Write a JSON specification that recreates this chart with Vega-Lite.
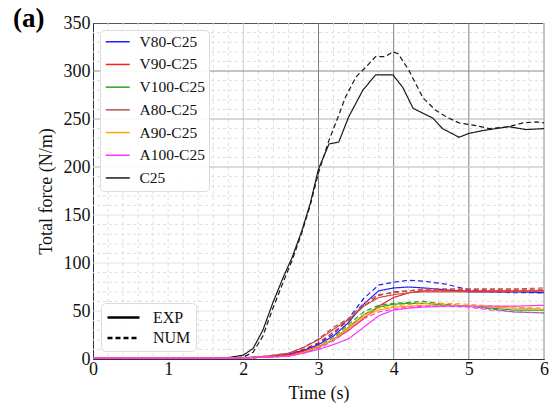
{
"$schema":"https://vega.github.io/schema/vega-lite/v6.json",
"width":451,"height":336,
"autosize":{"type":"none"},
"padding":{"left":93,"top":23,"right":8,"bottom":51},
"title":{"text":"(a)","anchor":"start","frame":"group","dx":-80,"offset":-40,"baseline":"alphabetic","font":"Liberation Serif, Times New Roman, serif","fontSize":27,"fontWeight":"bold","color":"#000"},
"config":{
 "font":"Liberation Serif, Times New Roman, serif",
 "view":{"stroke":"#555","strokeWidth":1},
 "axis":{"labelFont":"Liberation Serif, Times New Roman, serif","titleFont":"Liberation Serif, Times New Roman, serif","labelFontSize":18,"titleFontSize":18,"labelColor":"#111","titleColor":"#111","titleFontWeight":"normal","ticks":false,"domainColor":"#333","grid":false,"labelOverlap":false,"labelFlush":false},
 "legend":{"labelFont":"Liberation Serif, Times New Roman, serif","fillColor":"rgba(255,255,255,0.9)","strokeColor":"#dcdcdc","cornerRadius":4,"labelColor":"#111"}
},
"resolve":{"axis":{"x":"independent","y":"independent"}},
"layer":[
 {"data":{"values":[{"t":0.2},{"t":0.4},{"t":0.6},{"t":0.8},{"t":1},{"t":1.2},{"t":1.4},{"t":1.6},{"t":1.8},{"t":2.2},{"t":2.4},{"t":2.6},{"t":2.8},{"t":3.2},{"t":3.4},{"t":3.6},{"t":3.8},{"t":4.2},{"t":4.4},{"t":4.6},{"t":4.8},{"t":5.2},{"t":5.4},{"t":5.6},{"t":5.8}]},
  "mark":{"type":"rule","color":"#dedede","strokeWidth":1,"strokeDash":[3,3]},"encoding":{"x":{"field":"t","type":"quantitative","axis":null}}},
 {"data":{"values":[{"v":10},{"v":20},{"v":30},{"v":40},{"v":60},{"v":70},{"v":80},{"v":90},{"v":110},{"v":120},{"v":130},{"v":140},{"v":160},{"v":170},{"v":180},{"v":190},{"v":210},{"v":220},{"v":230},{"v":240},{"v":260},{"v":270},{"v":280},{"v":290},{"v":310},{"v":320},{"v":330},{"v":340}]},
  "mark":{"type":"rule","color":"#dedede","strokeWidth":1,"strokeDash":[3,3]},"encoding":{"y":{"field":"v","type":"quantitative","axis":null}}},
 {"data":{"values":[{"t":3},{"t":4},{"t":5}]},"mark":{"type":"rule","color":"#808080","strokeWidth":1},"encoding":{"x":{"field":"t","type":"quantitative","axis":null}}},
 {"data":{"values":[{"t":2}]},"mark":{"type":"rule","color":"#cccccc","strokeWidth":1},"encoding":{"x":{"field":"t","type":"quantitative","axis":null}}},
 {"data":{"values":[{"t":6}]},"mark":{"type":"rule","color":"#c4c4c4","strokeWidth":2},"encoding":{"x":{"field":"t","type":"quantitative","axis":null}}},
 {"data":{"values":[{"v":300}]},"mark":{"type":"rule","color":"#8a8a8a","strokeWidth":1},"encoding":{"y":{"field":"v","type":"quantitative","axis":null}}},
 {"data":{"values":[{"v":250}]},"mark":{"type":"rule","color":"#b0b0b0","strokeWidth":1},"encoding":{"y":{"field":"v","type":"quantitative","axis":null}}},
 {"data":{"values":[{"v":200}]},"mark":{"type":"rule","color":"#cfcfcf","strokeWidth":1.5},"encoding":{"y":{"field":"v","type":"quantitative","axis":null}}},
 {"data":{"values":[{"v":150},{"v":100},{"v":50}]},"mark":{"type":"rule","color":"#e2e2e2","strokeWidth":1},"encoding":{"y":{"field":"v","type":"quantitative","axis":null}}},
 {"data":{"name":"curves"},
  "mark":{"type":"line","strokeWidth":1.2},
  "encoding":{
   "x":{"field":"t","type":"quantitative","scale":{"domain":[0,6],"nice":false},
        "axis":{"orient":"bottom","title":"Time (s)","format":"d","values":[0,1,2,3,4,5,6],"labelOverlap":false,"labelPadding":1,"titlePadding":6}},
   "y":{"field":"v","type":"quantitative","scale":{"domain":[0,350],"nice":false},
        "axis":{"orient":"left","title":"Total force (N/m)","format":"d","values":[0,50,100,150,200,250,300,350],"labelOverlap":false,"labelPadding":3,"titlePadding":8}},
   "color":{"field":"s","type":"nominal","scale":{"domain":["V80-C25","V90-C25","V100-C25","A80-C25","A90-C25","A100-C25","C25"],"range":["#1f1fff","#ff1a1a","#2ca02c","#b5544f","#ffa500","#ff33ff","#1a1a1a"]},
     "legend":{"title":null,"orient":"top-left","offset":7,"symbolType":"M-2,0H2","symbolSize":144,"symbolOffset":6,"symbolStrokeWidth":1.5,"labelOffset":14,"labelFontSize":15.5,"rowPadding":5.7,"padding":4}},
   "strokeDash":{"field":"k","type":"nominal","scale":{"domain":["EXP","NUM"],"range":[[1,0],[5,3]]},
     "legend":{"title":null,"orient":"bottom-left","offset":8,"symbolType":"M-2,0H2","symbolSize":256,"symbolOffset":8,"symbolStrokeWidth":2.5,"symbolStrokeColor":"#000","labelOffset":20,"labelFontSize":16,"rowPadding":2.5,"padding":5}},
   "detail":{"field":"k"}
  }}
],
"datasets":{"curves":[
{"s":"C25","k":"EXP","t":0,"v":1},{"s":"C25","k":"EXP","t":1,"v":1},{"s":"C25","k":"EXP","t":1.8,"v":1.5},{"s":"C25","k":"EXP","t":2.0,"v":4},{"s":"C25","k":"EXP","t":2.13,"v":11},{"s":"C25","k":"EXP","t":2.26,"v":30},{"s":"C25","k":"EXP","t":2.39,"v":58},{"s":"C25","k":"EXP","t":2.53,"v":85},{"s":"C25","k":"EXP","t":2.65,"v":106},{"s":"C25","k":"EXP","t":2.78,"v":134},{"s":"C25","k":"EXP","t":2.89,"v":162},{"s":"C25","k":"EXP","t":3.0,"v":198},{"s":"C25","k":"EXP","t":3.14,"v":224},{"s":"C25","k":"EXP","t":3.27,"v":226},{"s":"C25","k":"EXP","t":3.4,"v":252},{"s":"C25","k":"EXP","t":3.59,"v":280},{"s":"C25","k":"EXP","t":3.76,"v":296},{"s":"C25","k":"EXP","t":3.99,"v":296},{"s":"C25","k":"EXP","t":4.12,"v":283},{"s":"C25","k":"EXP","t":4.26,"v":261},{"s":"C25","k":"EXP","t":4.39,"v":256},{"s":"C25","k":"EXP","t":4.52,"v":251},{"s":"C25","k":"EXP","t":4.65,"v":240},{"s":"C25","k":"EXP","t":4.87,"v":231},{"s":"C25","k":"EXP","t":5.0,"v":235},{"s":"C25","k":"EXP","t":5.19,"v":238},{"s":"C25","k":"EXP","t":5.53,"v":242},{"s":"C25","k":"EXP","t":5.76,"v":239},{"s":"C25","k":"EXP","t":6.0,"v":240},
{"s":"C25","k":"NUM","t":0,"v":1},{"s":"C25","k":"NUM","t":1,"v":1},{"s":"C25","k":"NUM","t":1.8,"v":1},{"s":"C25","k":"NUM","t":2.0,"v":2},{"s":"C25","k":"NUM","t":2.13,"v":7},{"s":"C25","k":"NUM","t":2.26,"v":24},{"s":"C25","k":"NUM","t":2.39,"v":52},{"s":"C25","k":"NUM","t":2.53,"v":80},{"s":"C25","k":"NUM","t":2.65,"v":103},{"s":"C25","k":"NUM","t":2.78,"v":132},{"s":"C25","k":"NUM","t":2.89,"v":160},{"s":"C25","k":"NUM","t":3.0,"v":194},{"s":"C25","k":"NUM","t":3.14,"v":228},{"s":"C25","k":"NUM","t":3.26,"v":252},{"s":"C25","k":"NUM","t":3.36,"v":273},{"s":"C25","k":"NUM","t":3.5,"v":294},{"s":"C25","k":"NUM","t":3.63,"v":304},{"s":"C25","k":"NUM","t":3.76,"v":315},{"s":"C25","k":"NUM","t":3.89,"v":315},{"s":"C25","k":"NUM","t":3.99,"v":320},{"s":"C25","k":"NUM","t":4.06,"v":318},{"s":"C25","k":"NUM","t":4.2,"v":301},{"s":"C25","k":"NUM","t":4.39,"v":272},{"s":"C25","k":"NUM","t":4.56,"v":259},{"s":"C25","k":"NUM","t":4.73,"v":251},{"s":"C25","k":"NUM","t":4.87,"v":246},{"s":"C25","k":"NUM","t":5.1,"v":243},{"s":"C25","k":"NUM","t":5.27,"v":240},{"s":"C25","k":"NUM","t":5.53,"v":242},{"s":"C25","k":"NUM","t":5.72,"v":246},{"s":"C25","k":"NUM","t":5.9,"v":247},{"s":"C25","k":"NUM","t":6.0,"v":246},
{"s":"V80-C25","k":"EXP","t":0,"v":1},{"s":"V80-C25","k":"EXP","t":1,"v":1},{"s":"V80-C25","k":"EXP","t":2,"v":1.5},{"s":"V80-C25","k":"EXP","t":2.3,"v":2},{"s":"V80-C25","k":"EXP","t":2.6,"v":5},{"s":"V80-C25","k":"EXP","t":2.8,"v":9},{"s":"V80-C25","k":"EXP","t":3.0,"v":15},{"s":"V80-C25","k":"EXP","t":3.2,"v":24},{"s":"V80-C25","k":"EXP","t":3.4,"v":38},{"s":"V80-C25","k":"EXP","t":3.6,"v":57},{"s":"V80-C25","k":"EXP","t":3.8,"v":71},{"s":"V80-C25","k":"EXP","t":4.0,"v":74},{"s":"V80-C25","k":"EXP","t":4.2,"v":75},{"s":"V80-C25","k":"EXP","t":4.4,"v":74},{"s":"V80-C25","k":"EXP","t":4.7,"v":72},{"s":"V80-C25","k":"EXP","t":5.0,"v":70},{"s":"V80-C25","k":"EXP","t":5.3,"v":70},{"s":"V80-C25","k":"EXP","t":5.6,"v":70},{"s":"V80-C25","k":"EXP","t":6.0,"v":69},
{"s":"V80-C25","k":"NUM","t":0,"v":1},{"s":"V80-C25","k":"NUM","t":1,"v":1},{"s":"V80-C25","k":"NUM","t":2,"v":1},{"s":"V80-C25","k":"NUM","t":2.3,"v":2},{"s":"V80-C25","k":"NUM","t":2.6,"v":5},{"s":"V80-C25","k":"NUM","t":2.8,"v":9},{"s":"V80-C25","k":"NUM","t":3.0,"v":16},{"s":"V80-C25","k":"NUM","t":3.2,"v":26},{"s":"V80-C25","k":"NUM","t":3.4,"v":42},{"s":"V80-C25","k":"NUM","t":3.6,"v":63},{"s":"V80-C25","k":"NUM","t":3.8,"v":77},{"s":"V80-C25","k":"NUM","t":4.0,"v":80},{"s":"V80-C25","k":"NUM","t":4.2,"v":82},{"s":"V80-C25","k":"NUM","t":4.4,"v":81},{"s":"V80-C25","k":"NUM","t":4.7,"v":78},{"s":"V80-C25","k":"NUM","t":5.0,"v":72},{"s":"V80-C25","k":"NUM","t":5.3,"v":70},{"s":"V80-C25","k":"NUM","t":5.6,"v":69},{"s":"V80-C25","k":"NUM","t":6.0,"v":69},
{"s":"V90-C25","k":"EXP","t":0,"v":1},{"s":"V90-C25","k":"EXP","t":1,"v":1},{"s":"V90-C25","k":"EXP","t":2,"v":1},{"s":"V90-C25","k":"EXP","t":2.3,"v":2},{"s":"V90-C25","k":"EXP","t":2.6,"v":4},{"s":"V90-C25","k":"EXP","t":2.8,"v":8},{"s":"V90-C25","k":"EXP","t":3.0,"v":13},{"s":"V90-C25","k":"EXP","t":3.2,"v":20},{"s":"V90-C25","k":"EXP","t":3.4,"v":30},{"s":"V90-C25","k":"EXP","t":3.6,"v":42},{"s":"V90-C25","k":"EXP","t":3.8,"v":55},{"s":"V90-C25","k":"EXP","t":4.0,"v":64},{"s":"V90-C25","k":"EXP","t":4.2,"v":69},{"s":"V90-C25","k":"EXP","t":4.4,"v":71},{"s":"V90-C25","k":"EXP","t":4.7,"v":71},{"s":"V90-C25","k":"EXP","t":5.0,"v":71},{"s":"V90-C25","k":"EXP","t":5.3,"v":71},{"s":"V90-C25","k":"EXP","t":5.6,"v":71},{"s":"V90-C25","k":"EXP","t":6.0,"v":71},
{"s":"V90-C25","k":"NUM","t":0,"v":1},{"s":"V90-C25","k":"NUM","t":1,"v":1},{"s":"V90-C25","k":"NUM","t":2,"v":1},{"s":"V90-C25","k":"NUM","t":2.3,"v":2},{"s":"V90-C25","k":"NUM","t":2.6,"v":5},{"s":"V90-C25","k":"NUM","t":2.8,"v":10},{"s":"V90-C25","k":"NUM","t":3.0,"v":17},{"s":"V90-C25","k":"NUM","t":3.2,"v":28},{"s":"V90-C25","k":"NUM","t":3.4,"v":40},{"s":"V90-C25","k":"NUM","t":3.6,"v":55},{"s":"V90-C25","k":"NUM","t":3.8,"v":66},{"s":"V90-C25","k":"NUM","t":4.0,"v":70},{"s":"V90-C25","k":"NUM","t":4.2,"v":71},{"s":"V90-C25","k":"NUM","t":4.4,"v":72},{"s":"V90-C25","k":"NUM","t":4.7,"v":72},{"s":"V90-C25","k":"NUM","t":5.0,"v":72},{"s":"V90-C25","k":"NUM","t":5.3,"v":72},{"s":"V90-C25","k":"NUM","t":5.6,"v":72},{"s":"V90-C25","k":"NUM","t":6.0,"v":72},
{"s":"V100-C25","k":"EXP","t":0,"v":1},{"s":"V100-C25","k":"EXP","t":1,"v":1},{"s":"V100-C25","k":"EXP","t":2,"v":1},{"s":"V100-C25","k":"EXP","t":2.3,"v":2},{"s":"V100-C25","k":"EXP","t":2.6,"v":3},{"s":"V100-C25","k":"EXP","t":2.8,"v":7},{"s":"V100-C25","k":"EXP","t":3.0,"v":12},{"s":"V100-C25","k":"EXP","t":3.2,"v":20},{"s":"V100-C25","k":"EXP","t":3.4,"v":33},{"s":"V100-C25","k":"EXP","t":3.6,"v":46},{"s":"V100-C25","k":"EXP","t":3.8,"v":54},{"s":"V100-C25","k":"EXP","t":4.0,"v":57},{"s":"V100-C25","k":"EXP","t":4.2,"v":58},{"s":"V100-C25","k":"EXP","t":4.4,"v":58},{"s":"V100-C25","k":"EXP","t":4.7,"v":56},{"s":"V100-C25","k":"EXP","t":5.0,"v":55},{"s":"V100-C25","k":"EXP","t":5.3,"v":53},{"s":"V100-C25","k":"EXP","t":5.6,"v":51},{"s":"V100-C25","k":"EXP","t":6.0,"v":51},
{"s":"V100-C25","k":"NUM","t":0,"v":1},{"s":"V100-C25","k":"NUM","t":1,"v":1},{"s":"V100-C25","k":"NUM","t":2,"v":1},{"s":"V100-C25","k":"NUM","t":2.3,"v":2},{"s":"V100-C25","k":"NUM","t":2.6,"v":3},{"s":"V100-C25","k":"NUM","t":2.8,"v":7},{"s":"V100-C25","k":"NUM","t":3.0,"v":13},{"s":"V100-C25","k":"NUM","t":3.2,"v":22},{"s":"V100-C25","k":"NUM","t":3.4,"v":36},{"s":"V100-C25","k":"NUM","t":3.6,"v":49},{"s":"V100-C25","k":"NUM","t":3.8,"v":56},{"s":"V100-C25","k":"NUM","t":4.0,"v":58},{"s":"V100-C25","k":"NUM","t":4.2,"v":59},{"s":"V100-C25","k":"NUM","t":4.4,"v":60},{"s":"V100-C25","k":"NUM","t":4.7,"v":57},{"s":"V100-C25","k":"NUM","t":5.0,"v":55},{"s":"V100-C25","k":"NUM","t":5.3,"v":52},{"s":"V100-C25","k":"NUM","t":5.6,"v":49},{"s":"V100-C25","k":"NUM","t":6.0,"v":48},
{"s":"A80-C25","k":"EXP","t":0,"v":1},{"s":"A80-C25","k":"EXP","t":1,"v":1},{"s":"A80-C25","k":"EXP","t":2,"v":1},{"s":"A80-C25","k":"EXP","t":2.3,"v":3},{"s":"A80-C25","k":"EXP","t":2.6,"v":6},{"s":"A80-C25","k":"EXP","t":2.8,"v":12},{"s":"A80-C25","k":"EXP","t":3.0,"v":20},{"s":"A80-C25","k":"EXP","t":3.2,"v":31},{"s":"A80-C25","k":"EXP","t":3.4,"v":41},{"s":"A80-C25","k":"EXP","t":3.6,"v":55},{"s":"A80-C25","k":"EXP","t":3.8,"v":64},{"s":"A80-C25","k":"EXP","t":4.0,"v":67},{"s":"A80-C25","k":"EXP","t":4.2,"v":69},{"s":"A80-C25","k":"EXP","t":4.4,"v":70},{"s":"A80-C25","k":"EXP","t":4.7,"v":70},{"s":"A80-C25","k":"EXP","t":5.0,"v":70},{"s":"A80-C25","k":"EXP","t":5.3,"v":70},{"s":"A80-C25","k":"EXP","t":5.6,"v":70},{"s":"A80-C25","k":"EXP","t":6.0,"v":71},
{"s":"A80-C25","k":"NUM","t":0,"v":1},{"s":"A80-C25","k":"NUM","t":1,"v":1},{"s":"A80-C25","k":"NUM","t":2,"v":1},{"s":"A80-C25","k":"NUM","t":2.3,"v":3},{"s":"A80-C25","k":"NUM","t":2.6,"v":6},{"s":"A80-C25","k":"NUM","t":2.8,"v":12},{"s":"A80-C25","k":"NUM","t":3.0,"v":21},{"s":"A80-C25","k":"NUM","t":3.2,"v":33},{"s":"A80-C25","k":"NUM","t":3.4,"v":42},{"s":"A80-C25","k":"NUM","t":3.6,"v":58},{"s":"A80-C25","k":"NUM","t":3.8,"v":67},{"s":"A80-C25","k":"NUM","t":4.0,"v":69},{"s":"A80-C25","k":"NUM","t":4.2,"v":71},{"s":"A80-C25","k":"NUM","t":4.4,"v":73},{"s":"A80-C25","k":"NUM","t":4.7,"v":73},{"s":"A80-C25","k":"NUM","t":5.0,"v":73},{"s":"A80-C25","k":"NUM","t":5.3,"v":73},{"s":"A80-C25","k":"NUM","t":5.6,"v":73},{"s":"A80-C25","k":"NUM","t":6.0,"v":74},
{"s":"A90-C25","k":"EXP","t":0,"v":1},{"s":"A90-C25","k":"EXP","t":1,"v":1},{"s":"A90-C25","k":"EXP","t":2,"v":1},{"s":"A90-C25","k":"EXP","t":2.3,"v":2},{"s":"A90-C25","k":"EXP","t":2.6,"v":3},{"s":"A90-C25","k":"EXP","t":2.8,"v":7},{"s":"A90-C25","k":"EXP","t":3.0,"v":12},{"s":"A90-C25","k":"EXP","t":3.2,"v":20},{"s":"A90-C25","k":"EXP","t":3.4,"v":32},{"s":"A90-C25","k":"EXP","t":3.6,"v":44},{"s":"A90-C25","k":"EXP","t":3.8,"v":51},{"s":"A90-C25","k":"EXP","t":4.0,"v":54},{"s":"A90-C25","k":"EXP","t":4.2,"v":55},{"s":"A90-C25","k":"EXP","t":4.4,"v":56},{"s":"A90-C25","k":"EXP","t":4.7,"v":56},{"s":"A90-C25","k":"EXP","t":5.0,"v":55},{"s":"A90-C25","k":"EXP","t":5.3,"v":54},{"s":"A90-C25","k":"EXP","t":5.6,"v":53},{"s":"A90-C25","k":"EXP","t":6.0,"v":52},
{"s":"A90-C25","k":"NUM","t":0,"v":1},{"s":"A90-C25","k":"NUM","t":1,"v":1},{"s":"A90-C25","k":"NUM","t":2,"v":1},{"s":"A90-C25","k":"NUM","t":2.3,"v":2},{"s":"A90-C25","k":"NUM","t":2.6,"v":3},{"s":"A90-C25","k":"NUM","t":2.8,"v":7},{"s":"A90-C25","k":"NUM","t":3.0,"v":13},{"s":"A90-C25","k":"NUM","t":3.2,"v":21},{"s":"A90-C25","k":"NUM","t":3.4,"v":34},{"s":"A90-C25","k":"NUM","t":3.6,"v":46},{"s":"A90-C25","k":"NUM","t":3.8,"v":53},{"s":"A90-C25","k":"NUM","t":4.0,"v":55},{"s":"A90-C25","k":"NUM","t":4.2,"v":57},{"s":"A90-C25","k":"NUM","t":4.4,"v":58},{"s":"A90-C25","k":"NUM","t":4.7,"v":58},{"s":"A90-C25","k":"NUM","t":5.0,"v":57},{"s":"A90-C25","k":"NUM","t":5.3,"v":55},{"s":"A90-C25","k":"NUM","t":5.6,"v":54},{"s":"A90-C25","k":"NUM","t":6.0,"v":53},
{"s":"A100-C25","k":"EXP","t":0,"v":1},{"s":"A100-C25","k":"EXP","t":1,"v":1},{"s":"A100-C25","k":"EXP","t":2,"v":1},{"s":"A100-C25","k":"EXP","t":2.3,"v":2},{"s":"A100-C25","k":"EXP","t":2.6,"v":3},{"s":"A100-C25","k":"EXP","t":2.8,"v":6},{"s":"A100-C25","k":"EXP","t":3.0,"v":10},{"s":"A100-C25","k":"EXP","t":3.2,"v":15},{"s":"A100-C25","k":"EXP","t":3.4,"v":21},{"s":"A100-C25","k":"EXP","t":3.6,"v":33},{"s":"A100-C25","k":"EXP","t":3.8,"v":45},{"s":"A100-C25","k":"EXP","t":4.0,"v":51},{"s":"A100-C25","k":"EXP","t":4.2,"v":53},{"s":"A100-C25","k":"EXP","t":4.4,"v":54},{"s":"A100-C25","k":"EXP","t":4.7,"v":55},{"s":"A100-C25","k":"EXP","t":5.0,"v":55},{"s":"A100-C25","k":"EXP","t":5.3,"v":55},{"s":"A100-C25","k":"EXP","t":5.6,"v":55},{"s":"A100-C25","k":"EXP","t":6.0,"v":56},
{"s":"A100-C25","k":"NUM","t":0,"v":1},{"s":"A100-C25","k":"NUM","t":1,"v":1},{"s":"A100-C25","k":"NUM","t":2,"v":1},{"s":"A100-C25","k":"NUM","t":2.3,"v":2},{"s":"A100-C25","k":"NUM","t":2.6,"v":3},{"s":"A100-C25","k":"NUM","t":2.8,"v":6},{"s":"A100-C25","k":"NUM","t":3.0,"v":11},{"s":"A100-C25","k":"NUM","t":3.2,"v":19},{"s":"A100-C25","k":"NUM","t":3.4,"v":30},{"s":"A100-C25","k":"NUM","t":3.6,"v":42},{"s":"A100-C25","k":"NUM","t":3.8,"v":49},{"s":"A100-C25","k":"NUM","t":4.0,"v":52},{"s":"A100-C25","k":"NUM","t":4.2,"v":54},{"s":"A100-C25","k":"NUM","t":4.4,"v":55},{"s":"A100-C25","k":"NUM","t":4.7,"v":55},{"s":"A100-C25","k":"NUM","t":5.0,"v":54},{"s":"A100-C25","k":"NUM","t":5.3,"v":51},{"s":"A100-C25","k":"NUM","t":5.6,"v":49},{"s":"A100-C25","k":"NUM","t":6.0,"v":48}
]}
}
